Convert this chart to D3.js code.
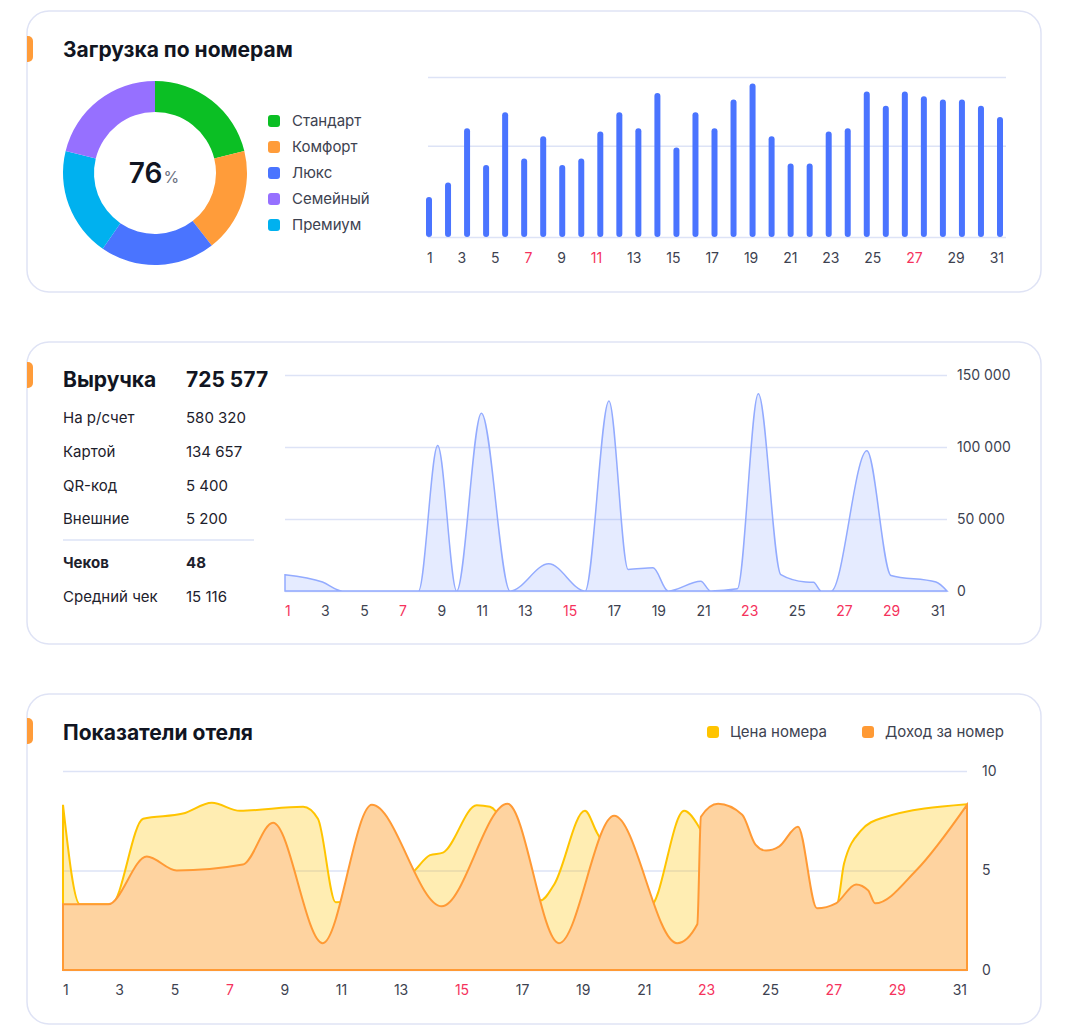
<!DOCTYPE html>
<html>
<head>
<meta charset="utf-8">
<script src="https://cdn.jsdelivr.net/npm/d3@7"></script>
<style>
  body { margin: 0; background: #fff; }
  svg { font-family: Inter, "Noto Sans", sans-serif; display: block; }
</style>
</head>
<body>
<svg id="chart" width="1068" height="1034"></svg>
<script>
// ---- data ----
const roomTypes  = ["Стандарт", "Комфорт", "Люкс", "Семейный", "Премиум"];
const roomShares = [22, 19, 21, 22, 20];
const roomColors = ["#0bbf24", "#ff9c3a", "#4a74ff", "#9670ff", "#00b1ef"];
const ringOrder  = ["Стандарт", "Комфорт", "Люкс", "Премиум", "Семейный"];
const occupancy  = 76;

const days      = d3.range(1, 32);
const tickDays  = [1, 3, 5, 7, 9, 11, 13, 15, 17, 19, 21, 23, 25, 27, 29, 31];
const loadValues = [25, 34, 68, 45, 78, 49, 63, 45, 49, 66, 78, 68, 90, 56, 78, 68,
                    86, 96, 63, 46, 46, 66, 68, 91, 82, 91, 88, 86, 86, 82, 75];
const loadGrid  = [0, 57, 100];
const redTop    = [7, 11, 27];

const revenueTotal = "725 577";
const payLabels = ["На р/счет", "Картой", "QR-код", "Внешние"];
const payValues = ["580 320", "134 657", "5 400", "5 200"];
const checkLabels = ["Чеков", "Средний чек"];
const checkValues = ["48", "15 116"];
const revenueDay   = [1, 2.7, 3.6, 7.05, 7.92, 8.78, 9.9, 11.2, 12.95, 14.6, 15.68, 16.55, 17.68, 18.36,
                      19.84, 20.29, 21.5, 22.45, 23.47, 24.6, 24.95, 25.3, 25.75, 27.37, 28.46, 30.5, 31];
const revenueValue = [11300, 6200, 0, 0, 101000, 0, 123500, 0, 18900, 0, 132000, 15000, 16100, 0,
                      6700, 0, 1500, 137000, 11300, 6200, 6000, 0, 0, 97400, 10800, 6200, 0];
const revenueTicks = [0, 50000, 100000, 150000];
const redMid = [1, 7, 15, 23, 27, 29];

const priceDay   = [1, 1.56, 2.6, 3.66, 4.98, 5.94, 6.87, 8.97, 9.46, 10.05, 12.6, 13.18, 13.61, 14.73,
                    15.17, 16.85, 17.3, 18.32, 18.72, 20.48, 21.61, 22.1, 22.6, 25, 26, 26.69, 26.92,
                    27.48, 28.18, 31];
const priceValue = [8.3, 3.3, 3.3, 7.6, 7.86, 8.4, 8.0, 8.2, 7.6, 3.4, 4.9, 5.77, 5.9, 8.28,
                    8.2, 3.5, 4.3, 8.0, 6.9, 3.2, 8.0, 7.2, 5.5, 3.0, 3.0, 3.34, 5.35,
                    7.0, 7.64, 8.33];
const incomeDay   = [1, 2.5, 3.78, 4.77, 6.97, 7.97, 9.62, 11.25, 13.57, 15.75, 17.46, 19.29, 21.38, 22.05,
                     22.17, 22.74, 23.54, 23.98, 24.33, 24.76, 25.39, 26.02, 26.65, 27.32, 27.72, 27.95, 29.31, 31];
const incomeValue = [3.3, 3.3, 5.7, 5.0, 5.3, 7.4, 1.35, 8.3, 3.2, 8.35, 1.35, 7.75, 1.35, 2.3,
                     7.7, 8.35, 7.8, 6.3, 6.0, 6.2, 7.2, 3.1, 3.35, 4.3, 4.0, 3.35, 5.0, 8.3];
const hotelTicks = [0, 5, 10];
const redBottom = [7, 15, 23, 27, 29];
const hotelSeries = ["Цена номера", "Доход за номер"];
const hotelColors = ["#ffc400", "#ff9a35"];

// ---- helpers ----
const svg = d3.select("#chart");
const gridColor = "#dde3f6";
const textColor = "#3d4250";
const redColor  = "#f5325c";
const fmt = d3.formatLocale({decimal: ",", thousands: " ", grouping: [3], currency: ["", ""]}).format(",d");

function card(y0, y1, tabY) {
  svg.append("rect")
    .attr("x", 27).attr("y", y0)
    .attr("width", 1014).attr("height", y1 - y0)
    .attr("rx", 22)
    .attr("fill", "#fff")
    .attr("stroke", "#dfe3f5")
    .attr("stroke-width", 1.5);
  svg.append("path")
    .attr("d", "M27," + tabY + "h1a5,5 0 0 1 5,5v16a5,5 0 0 1 -5,5h-1z")
    .attr("fill", "#ff9c3a");
}

// day labels laid out edge to edge with equal gaps
function spreadTicks(g, ticks, x0, x1, y, red) {
  const t = g.selectAll("text").data(ticks).join("text")
    .attr("y", y)
    .attr("dy", "0.35em")
    .attr("font-size", 14)
    .attr("fill", d => red.includes(d) ? redColor : textColor)
    .text(d => d);
  const w = t.nodes().map(n => n.getComputedTextLength());
  const gap = (x1 - x0 - d3.sum(w)) / (ticks.length - 1);
  let pos = x0;
  t.attr("x", (d, i) => { const v = pos; pos += w[i] + gap; return v; });
}

function styleAxis(g) {
  g.select(".domain").remove();
  g.selectAll(".tick line").attr("stroke", gridColor).attr("stroke-width", 1.5);
  g.selectAll(".tick text").attr("fill", textColor).attr("font-size", 14)
    .attr("font-family", "Inter, sans-serif");
}

function title(x, y, s) {
  svg.append("text").attr("x", x).attr("y", y)
    .attr("font-size", 21).attr("font-weight", 700).attr("fill", "#111522")
    .text(s);
}

// ---- panel 1: occupancy ----
card(11, 292, 36);
title(63, 57, "Загрузка по номерам");

const ring = svg.append("g").attr("transform", "translate(155,173)");
const ringData = ringOrder.map(n => ({name: n, value: roomShares[roomTypes.indexOf(n)]}));
const pie = d3.pie().sort(null).value(d => d.value);
const arc = d3.arc().innerRadius(61).outerRadius(92);
ring.selectAll("path").data(pie(ringData)).join("path")
  .attr("d", arc)
  .attr("fill", d => roomColors[roomTypes.indexOf(d.data.name)]);
const centerText = ring.append("text").attr("x", -1).attr("y", 10).attr("text-anchor", "middle");
centerText.append("tspan").attr("font-size", 28).attr("font-weight", 600).attr("fill", "#111522").text(occupancy);
centerText.append("tspan").attr("font-size", 16).attr("fill", "#6b7080").attr("dx", 1).text("%");

const legend = svg.append("g").attr("transform", "translate(268,121)");
const li = legend.selectAll("g").data(roomTypes).join("g")
  .attr("transform", (d, i) => "translate(0," + i * 26 + ")");
li.append("rect").attr("y", -6).attr("width", 12).attr("height", 12).attr("rx", 3)
  .attr("fill", (d, i) => roomColors[i]);
li.append("text").attr("x", 24).attr("dy", "0.35em").attr("font-size", 15)
  .attr("fill", textColor).text(d => d);

const xb = d3.scalePoint().domain(days).range([429, 1000]);
const yb = d3.scaleLinear().domain([0, 100]).range([237, 77]);
svg.append("g").attr("transform", "translate(428,0)")
  .call(d3.axisLeft(yb).tickValues(loadGrid).tickSize(-578).tickFormat(""))
  .call(styleAxis);
svg.append("g").selectAll("rect").data(loadValues).join("rect")
  .attr("x", (d, i) => xb(days[i]) - 3)
  .attr("y", d => yb(d))
  .attr("width", 6)
  .attr("height", d => yb(0) - yb(d))
  .attr("rx", 3)
  .attr("fill", "#4a74ff");
spreadTicks(svg.append("g"), tickDays, 427, 1004, 258, redTop);

// ---- panel 2: revenue ----
card(342, 644, 362);
title(63, 387, "Выручка");
title(186, 387, revenueTotal);
const rows = svg.append("g");
payLabels.forEach((l, i) => {
  const y = 418 + i * 33.7;
  rows.append("text").attr("x", 63).attr("y", y).attr("dy", "0.35em")
    .attr("font-size", 15).attr("fill", "#1d212c").text(l);
  rows.append("text").attr("x", 186).attr("y", y).attr("dy", "0.35em")
    .attr("font-size", 15).attr("fill", "#1d212c").text(payValues[i]);
});
rows.append("line").attr("x1", 63).attr("x2", 254).attr("y1", 540).attr("y2", 540)
  .attr("stroke", gridColor).attr("stroke-width", 1.5);
checkLabels.forEach((l, i) => {
  const y = 563 + i * 34;
  const w = i === 0 ? 700 : 400;
  rows.append("text").attr("x", 63).attr("y", y).attr("dy", "0.35em")
    .attr("font-size", 15).attr("font-weight", w).attr("fill", "#1d212c").text(l);
  rows.append("text").attr("x", 186).attr("y", y).attr("dy", "0.35em")
    .attr("font-size", 15).attr("font-weight", w).attr("fill", "#1d212c").text(checkValues[i]);
});

const xr = d3.scaleLinear().domain([1, 31]).range([285, 947]);
const yr = d3.scaleLinear().domain([0, 150000]).range([591, 375]);
svg.append("g").attr("transform", "translate(947,0)")
  .call(d3.axisRight(yr).tickValues(revenueTicks).tickSize(-662).tickPadding(10).tickFormat(fmt))
  .call(styleAxis);
const revArea = d3.area()
  .x((d, i) => xr(revenueDay[i]))
  .y0(yr(0))
  .y1(d => yr(d))
  .curve(d3.curveMonotoneX);
svg.append("path").datum(revenueValue)
  .attr("d", revArea)
  .attr("fill", "rgba(74,116,255,0.14)")
  .attr("stroke", "#93abff")
  .attr("stroke-width", 1.5);
spreadTicks(svg.append("g"), tickDays, 285, 945, 611, redMid);

// ---- panel 3: hotel indicators ----
card(694, 1024, 718);
title(63, 740, "Показатели отеля");
const hl = svg.append("g").selectAll("g").data(hotelSeries).join("g")
  .attr("transform", (d, i) => "translate(" + [707, 862][i] + ",732)");
hl.append("rect").attr("y", -6).attr("width", 12).attr("height", 12).attr("rx", 3)
  .attr("fill", (d, i) => hotelColors[i]);
hl.append("text").attr("x", 23).attr("dy", "0.35em").attr("font-size", 15)
  .attr("fill", textColor).text(d => d);

const xh = d3.scaleLinear().domain([1, 31]).range([63, 967]);
const yh = d3.scaleLinear().domain([0, 10]).range([970, 771]);
svg.append("g").attr("transform", "translate(967,0)")
  .call(d3.axisRight(yh).tickValues(hotelTicks).tickSize(-904).tickPadding(15))
  .call(styleAxis);

function hotelArea(xs) {
  return d3.area()
    .x((d, i) => xh(xs[i]))
    .y0(yh(0))
    .y1(d => yh(d))
    .curve(d3.curveMonotoneX);
}
svg.append("path").datum(priceValue)
  .attr("d", hotelArea(priceDay))
  .attr("fill", "rgba(255,196,0,0.3)")
  .attr("stroke", hotelColors[0])
  .attr("stroke-width", 2);
svg.append("path").datum(incomeValue)
  .attr("d", hotelArea(incomeDay))
  .attr("fill", "#fed3a0")
  .attr("stroke", hotelColors[1])
  .attr("stroke-width", 2);
spreadTicks(svg.append("g"), tickDays, 63, 967, 990, redBottom);
</script>
</body>
</html>
